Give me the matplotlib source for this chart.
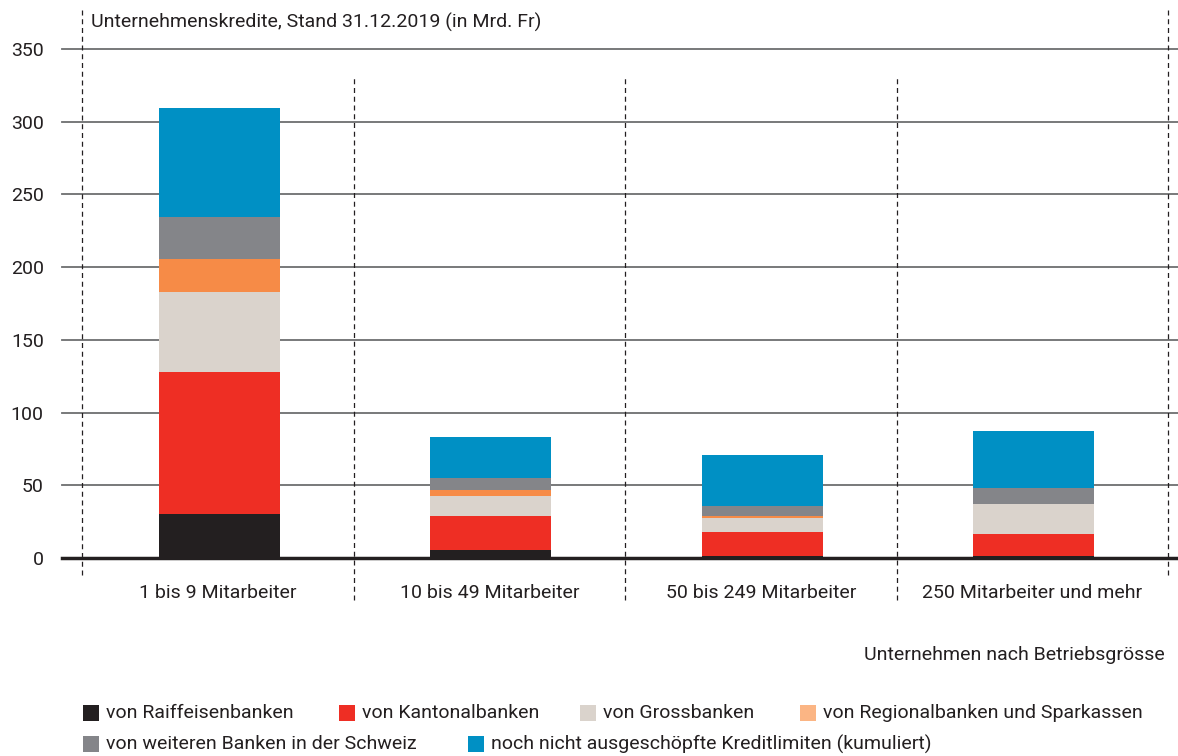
import matplotlib
matplotlib.use("Agg")
import matplotlib.pyplot as plt
from matplotlib.patches import Rectangle
import numpy as np

categories = ["1 bis 9 Mitarbeiter", "10 bis 49 Mitarbeiter", "50 bis 249 Mitarbeiter", "250 Mitarbeiter und mehr"]
series_names = ["von Raiffeisenbanken", "von Kantonalbanken", "von Grossbanken",
                "von Regionalbanken und Sparkassen", "von weiteren Banken in der Schweiz",
                "noch nicht ausgeschöpfte Kreditlimiten (kumuliert)"]
raiffeisen = [30.0, 5.5, 1.4, 1.4]
kantonal = [98.0, 23.4, 16.5, 15.1]
gross = [55.0, 13.7, 9.6, 20.6]
regional = [22.5, 4.2, 1.4, 0.0]
weitere = [29.0, 8.2, 6.9, 11.0]
limiten = [75.0, 28.2, 35.0, 39.2]
yticks = [0, 50, 100, 150, 200, 250, 300, 350]

series = [raiffeisen, kantonal, gross, regional, weitere, limiten]
colors = ["#231f20", "#ee2e24", "#dad3cc", "#f68b47", "#848589", "#0090c4"]
legend_colors = ["#231f20", "#ee2e24", "#dad3cc", "#fbb584", "#848589", "#0090c4"]

FONT = "Roboto"
FS = 14
plt.rcParams['font.family'] = [FONT, 'DejaVu Sans']
TXT = "#231f20"
W, H = 1178, 756
fig = plt.figure(figsize=(W/100, H/100), dpi=100)
ax = fig.add_axes([82/W, 1-558/H, (1168-82)/W, (558-49)/H])
ax.set_xlim(-0.5, 3.5)
ax.set_ylim(0, 350)
for s in ax.spines.values():
    s.set_visible(False)

x = np.arange(len(categories))
bottom = np.zeros(len(categories))
for vals, c in zip(series, colors):
    ax.bar(x + 0.005, vals, bottom=bottom, width=0.445, color=c, zorder=3, linewidth=0)
    bottom += np.array(vals)

# gridlines
for t in yticks[1:]:
    ax.plot([-0.574, 3.537], [t, t], color="#6d6e70", lw=1.3, clip_on=False, zorder=1)
ax.plot([-0.574, 3.537], [0, 0], color="#231f20", lw=2.5, clip_on=False, zorder=4)

# dashed separators
for xv, (y0, y1) in zip([-0.5, 0.5, 1.5, 2.5, 3.5],
                        [(-11.7, 379), (-29, 331), (-29, 331), (-29, 331), (-11.7, 379)]):
    ax.plot([xv, xv], [y0, y1], color="#231f20", lw=0.9, ls=(0, (4, 3)), clip_on=False, zorder=2)

ax.set_yticks(yticks)
ax.set_yticklabels([str(t) for t in yticks], fontsize=FS, color=TXT, family=FONT)
ax.tick_params(axis='y', length=0, pad=27.5)
ax.set_xticks(x)
ax.set_xticklabels(categories, fontsize=FS, color=TXT, family=FONT)
ax.tick_params(axis='x', length=0, pad=19)

fig.text(91/W, 1-22/H, "Unternehmenskredite, Stand 31.12.2019 (in Mrd. Fr)", fontsize=FS,
         color=TXT, va='center', ha='left', family=FONT)
fig.text(1165/W, 1-655/H, "Unternehmen nach Betriebsgrösse", fontsize=FS,
         color=TXT, va='center', ha='right', family=FONT)

# legend (flow layout, two rows)
positions = [(83, 713), (339, 713), (580, 713), (800, 713), (83, 744), (468, 744)]
for (px, py), name, c in zip(positions, series_names, legend_colors):
    fig.patches.append(Rectangle((px/W, 1-(py+8)/H), 16/W, 16/H, transform=fig.transFigure,
                                 facecolor=c, edgecolor='none'))
    fig.text((px+23)/W, 1-py/H, name, fontsize=FS, color=TXT, va='center', ha='left', family=FONT)

fig.savefig("out.png", dpi=100)
